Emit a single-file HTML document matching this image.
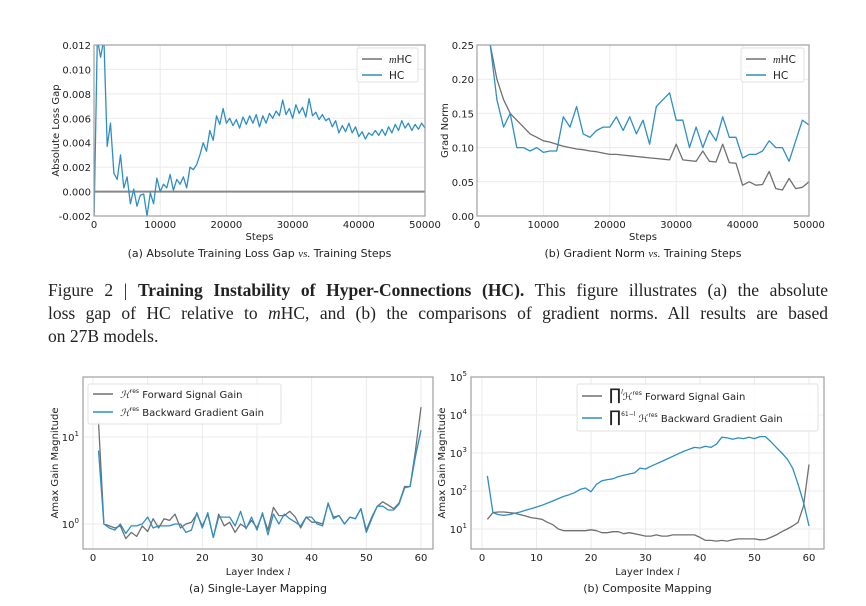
<!DOCTYPE html>
<html><head><meta charset="utf-8">
<style>
html,body{margin:0;padding:0;background:#fff;}
#wrap{position:relative;width:866px;height:606px;overflow:hidden;}
svg{position:absolute;left:0;top:0;}
#cap{position:absolute;left:48px;top:279px;width:780px;font-family:"Liberation Serif",serif;font-size:17.5px;line-height:23px;color:#222;}
#cap .j{text-align:justify;text-align-last:justify;white-space:nowrap;}
</style></head>
<body>
<div id="wrap">
<svg id="svg" width="866" height="606" viewBox="0 0 866 606"></svg>
<div id="cap">
<div class="j" style="white-space:normal">Figure 2 | <b>Training Instability of Hyper-Connections (HC).</b> This figure illustrates (a) the absolute</div>
<div class="j" style="white-space:normal">loss gap of HC relative to <i>m</i>HC, and (b) the comparisons of gradient norms. All results are based</div>
<div>on 27B models.</div>
</div>
</div>
<script>
// ---- Panel A data (loss gap x1e-3), steps every 500 ----
const stepsA = Array.from({length:101},(_,i)=>i*500);
const hcGap = [-2.5,12.5,11,12.5,3.7,5.6,1.5,1.0,3.0,0.3,1.2,-1.0,0.2,-1.2,-0.3,-0.2,-2.0,-0.1,-1.0,1.1,0.0,0.6,0.3,1.4,0.1,1.0,0.6,1.2,0.3,2.0,1.8,2.2,3.0,4.0,3.3,5.0,4.2,6.2,5.5,6.8,5.6,6.0,5.4,5.9,5.2,6.1,5.5,6.2,5.6,6.3,5.3,6.2,5.6,6.4,6.0,6.6,6.2,7.5,6.3,6.8,6.0,7.1,6.4,6.9,6.1,7.6,6.2,6.5,5.9,6.3,5.8,6.0,5.3,5.8,4.8,5.4,4.9,5.6,4.8,5.3,4.5,4.9,4.3,4.8,4.6,5.0,4.6,5.1,4.6,5.3,4.8,5.5,5.0,5.8,5.2,5.6,5.0,5.5,5.1,5.6,5.2];
const mhcGap = stepsA.map(()=>0);
// ---- Panel B data (grad norm), steps every 1000 from 2000 ----
const stepsB = Array.from({length:49},(_,i)=>2000+i*1000);
const mhcNorm = [0.25,0.20,0.17,0.15,0.14,0.13,0.12,0.115,0.11,0.108,0.105,0.102,0.10,0.098,0.097,0.095,0.094,0.092,0.09,0.09,0.089,0.088,0.087,0.086,0.085,0.084,0.083,0.082,0.105,0.082,0.081,0.08,0.095,0.08,0.079,0.105,0.078,0.077,0.045,0.05,0.045,0.046,0.065,0.04,0.038,0.055,0.04,0.042,0.05];
const hcNorm = [0.25,0.17,0.13,0.15,0.10,0.10,0.095,0.10,0.093,0.095,0.095,0.145,0.13,0.16,0.12,0.115,0.125,0.13,0.13,0.145,0.125,0.145,0.12,0.14,0.105,0.16,0.17,0.18,0.14,0.14,0.10,0.13,0.10,0.125,0.11,0.145,0.115,0.115,0.085,0.09,0.09,0.095,0.11,0.10,0.10,0.08,0.11,0.14,0.133];
// ---- Panel C data (single-layer gains) ----
const layers = Array.from({length:60},(_,i)=>i+1);
const fwdSingle = [15,1.0,0.95,0.9,0.95,0.68,0.8,0.72,0.95,0.82,1.15,0.9,1.15,1.1,1.3,0.9,1.0,1.05,1.3,0.95,1.3,0.7,1.3,0.95,1.05,0.8,1.0,0.9,1.1,0.9,1.3,0.85,1.55,1.25,1.25,1.4,1.2,0.9,1.2,1.05,1.05,1.0,1.7,1.2,1.25,1.0,1.2,1.15,1.5,0.85,1.2,1.6,1.8,1.65,1.5,1.75,2.7,2.7,7,22];
const bwdSingle = [7,1.0,0.9,0.85,1.0,0.78,0.95,0.95,1.0,1.2,0.9,0.95,0.95,0.95,1.0,1.0,0.8,0.85,1.35,0.9,1.35,0.7,1.2,1.2,1.2,0.95,1.4,0.88,1.2,0.85,1.35,0.75,1.3,1.0,1.3,1.15,1.05,0.95,1.2,1.2,1.0,0.95,1.75,1.15,1.25,1.0,1.2,1.15,1.5,0.8,1.15,1.6,1.6,1.45,1.45,1.7,2.6,2.7,6,12];
// ---- Panel D data (composite gains) ----
const fwdComp = [18,27,28,28,27,26,24,22,20,19,18,15,13,10,9,9,9,9,9,9.5,9,8,8,8.5,8.5,7.5,8,7.5,7,6.5,6.5,7,6.5,6.5,7,7,7,7,7,6,5,5,4.8,5,4.8,5.2,5.5,5.5,5.5,5.5,5.2,5.3,6,7,8.5,10,12,15,40,500];
const bwdComp = [250,27,24,23,24,26,28,31,34,38,42,48,55,63,72,80,90,110,120,95,150,185,200,210,240,260,280,300,400,380,450,520,600,700,820,950,1100,1250,1400,1350,1500,1400,1700,2600,2500,2300,2500,2400,2600,2400,2700,2700,2000,1400,1000,700,400,150,50,12];
const ticksSteps = [0,10000,20000,30000,40000,50000];
const ticksGap = [-0.002,0,0.002,0.004,0.006,0.008,0.010,0.012];
const ticksNorm = [0,0.05,0.10,0.15,0.20,0.25];
const ticksLayer = [0,10,20,30,40,50,60];

const NS='http://www.w3.org/2000/svg';
const svg=document.getElementById('svg');
const GRAY='#707070', BLUE='#2f8ec4', GRID='#ebebeb', FRAME='#a0a0a0';
function mk(tag,attrs,parent){const e=document.createElementNS(NS,tag);for(const k in attrs)e.setAttribute(k,attrs[k]);(parent||svg).appendChild(e);return e;}
function txt(x,y,s,size,anchor,parent){const t=mk('text',{x:x,y:y,'font-family':'DejaVu Sans, Liberation Sans, sans-serif','font-size':size,'text-anchor':anchor||'start',fill:'#222'},parent);t.textContent=s;return t;}

function panel(p){
  const g=mk('g',{});
  
  
  const {x0,x1,y0,y1}=p;
  const X=v=>p.px0+(v-p.xmin)/(p.xmax-p.xmin)*(p.px1-p.px0);
  const Y=p.log?(v=>p.py0-(Math.log10(v)-p.ymin)/(p.ymax-p.ymin)*(p.py0-p.py1)):(v=>p.py0-(v-p.ymin)/(p.ymax-p.ymin)*(p.py0-p.py1));
  p.xticks.forEach(v=>{const l=mk('line',{x1:X(v),x2:X(v),y1:y0,y2:y1,stroke:GRID,'stroke-width':1},g);});
  p.yticks.forEach(v=>{const yy=p.log?Y(Math.pow(10,v)):Y(v);const l=mk('line',{x1:x0,x2:x1,y1:yy,y2:yy,stroke:GRID,'stroke-width':1},g);});
  const cid='clip-'+p.name;
  const cp=mk('clipPath',{id:cid},g);mk('rect',{x:x0,y:y0,width:x1-x0,height:y1-y0},cp);
  p.series.forEach(s=>{
    const d=s.xs.map((x,i)=>(i?'L':'M')+X(x).toFixed(1)+','+Y(s.ys[i]).toFixed(1)).join('');
    const path=mk('path',{d:d,fill:'none',stroke:s.color,'stroke-width':s.w||1.3,'clip-path':'url(#'+cid+')','stroke-linejoin':'round'},g);
    
    
  });
  const fr=mk('rect',{x:x0,y:y0,width:x1-x0,height:y1-y0,fill:'none',stroke:FRAME,'stroke-width':1.2},g);
  
  
  p.xticks.forEach(v=>{const t=txt(X(v),y1+12,String(v),10,'middle',g);});
  p.yticks.forEach(v=>{
    const yy=p.log?Y(Math.pow(10,v)):Y(v);
    let t;
    if(p.log){t=txt(x0-4,yy+4,'10',10,'end',g);const sp=mk('tspan',{dy:-5,'font-size':7},t);sp.textContent=String(v);}
    else t=txt(x0-3,yy+4,p.yfmt(v),10,'end',g);
    
  });
  const xl=txt((x0+x1)/2,p.xlabY,p.xlabel,10,'middle',g);
  if(p.xlabItalic){xl.textContent='Layer Index ';const it=mk('tspan',{'font-style':'italic','font-family':'Liberation Serif, serif'},xl);it.textContent='l';}
  
  const yl=txt(0,0,p.ylabel,10,'middle',g);yl.setAttribute('transform','translate('+p.ylabX+','+(y0+y1)/2+') rotate(-90)');
  
  const cap=txt((x0+x1)/2,p.capY,'',11,'middle',g);
  p.caption.forEach(c=>{const s=mk('tspan',c.i?{'font-style':'italic','font-family':'Liberation Serif, serif'}:{},cap);s.textContent=c.t;});
  
  const L=p.legend;
  const lb=mk('rect',{x:L.x,y:L.y,width:L.w,height:L.h,fill:'#fff','fill-opacity':0.85,stroke:'#e2e2e2','stroke-width':1,rx:2},g);
  
  L.items.forEach((it,i)=>{
    const yy=L.y+L.first+i*L.gap;
    const ln=mk('line',{x1:L.x+5,x2:L.x+25,y1:yy,y2:yy,stroke:it.color,'stroke-width':1.5},g);
    
    const t=txt(L.x+32,yy+4,'',L.fs||10.5,'start',g);
    it.parts.forEach(pt=>{const s=mk('tspan',pt.a||{},t);s.textContent=pt.t;});
    
  });
}

const IT={'font-style':'italic','font-family':'Liberation Serif, serif'};
panel({name:'loss-gap-chart',x0:94,x1:425,y0:45,y1:216,px0:94,px1:425,xmin:0,xmax:50000,py0:216,py1:45,ymin:-0.002,ymax:0.012,
  xticks:ticksSteps,yticks:ticksGap,yfmt:v=>v.toFixed(3),xlabel:'Steps',xlabY:240,ylabel:'Absolute Loss Gap',ylabX:59,capY:257,
  caption:[{t:'(a) Absolute Training Loss Gap '},{t:'vs.',i:1},{t:'  Training Steps'}],
  series:[{name:'mhc-line',xs:stepsA,ys:mhcGap,color:'#888',w:2},{name:'hc-line',xs:stepsA,ys:hcGap.map(v=>v/1000),color:BLUE}],
  legend:{x:357,y:48,w:61,h:34,first:11,gap:16,items:[{color:GRAY,parts:[{t:'m',a:IT},{t:'HC'}]},{color:BLUE,parts:[{t:'HC'}]}]}});
panel({name:'grad-norm-chart',x0:477,x1:809,y0:45,y1:216,px0:477,px1:809,xmin:0,xmax:50000,py0:216,py1:45,ymin:0,ymax:0.25,
  xticks:ticksSteps,yticks:ticksNorm,yfmt:v=>v.toFixed(2),xlabel:'Steps',xlabY:240,ylabel:'Grad Norm',ylabX:448,capY:257,
  caption:[{t:'(b) Gradient Norm '},{t:'vs.',i:1},{t:'  Training Steps'}],
  series:[{name:'mhc-line',xs:stepsB,ys:mhcNorm,color:GRAY},{name:'hc-line',xs:stepsB,ys:hcNorm,color:BLUE}],
  legend:{x:741,y:48,w:63,h:34,first:11,gap:16,items:[{color:GRAY,parts:[{t:'m',a:IT},{t:'HC'}]},{color:BLUE,parts:[{t:'HC'}]}]}});
panel({name:'single-layer-chart',log:true,x0:83,x1:433,y0:377,y1:549,px0:93,px1:421,xmin:0,xmax:60,py0:524,py1:437,ymin:0,ymax:1,
  xticks:ticksLayer,yticks:[0,1],xlabel:'Layer Index l',xlabItalic:true,xlabY:575,ylabel:'Amax Gain Magnitude',ylabX:58,capY:592,
  caption:[{t:'(a) Single-Layer Mapping'}],
  series:[{name:'forward-gain-line',xs:layers,ys:fwdSingle,color:GRAY},{name:'backward-gain-line',xs:layers,ys:bwdSingle,color:BLUE}],
  legend:{x:88,y:384,w:193,h:40,first:10,gap:18,fs:10,items:[
    {color:GRAY,parts:[{t:'ℋ',a:IT},{t:'res',a:{'font-size':6,dy:-5}},{t:' Forward Signal Gain',a:{dy:5}}]},
    {color:BLUE,parts:[{t:'ℋ',a:IT},{t:'res',a:{'font-size':6,dy:-5}},{t:' Backward Gradient Gain',a:{dy:5}}]}]}});
panel({name:'composite-chart',log:true,x0:471,x1:824,y0:377,y1:549,px0:482,px1:809,xmin:0,xmax:60,py0:529,py1:377,ymin:1,ymax:5,
  xticks:ticksLayer,yticks:[1,2,3,4,5],xlabel:'Layer Index l',xlabItalic:true,xlabY:575,ylabel:'Amax Gain Magnitude',ylabX:445,capY:592,
  caption:[{t:'(b) Composite Mapping'}],
  series:[{name:'forward-gain-line',xs:layers,ys:fwdComp,color:GRAY},{name:'backward-gain-line',xs:layers,ys:bwdComp,color:BLUE}],
  legend:{x:577,y:384,w:241,h:47,first:12,gap:22,fs:10,items:[
    {color:GRAY,parts:[{t:'∏',a:{'font-size':16}},{t:'l',a:{'font-size':6,dy:-6,'font-style':'italic'}},{t:'ℋ',a:{dy:6,'font-style':'italic'}},{t:'res',a:{'font-size':6,dy:-5}},{t:' Forward Signal Gain',a:{dy:5}}]},
    {color:BLUE,parts:[{t:'∏',a:{'font-size':16}},{t:'61−l',a:{'font-size':6,dy:-6}},{t:' ℋ',a:{dy:6,'font-style':'italic'}},{t:'res',a:{'font-size':6,dy:-5}},{t:' Backward Gradient Gain',a:{dy:5}}]}]}});
</script>
</body></html>
